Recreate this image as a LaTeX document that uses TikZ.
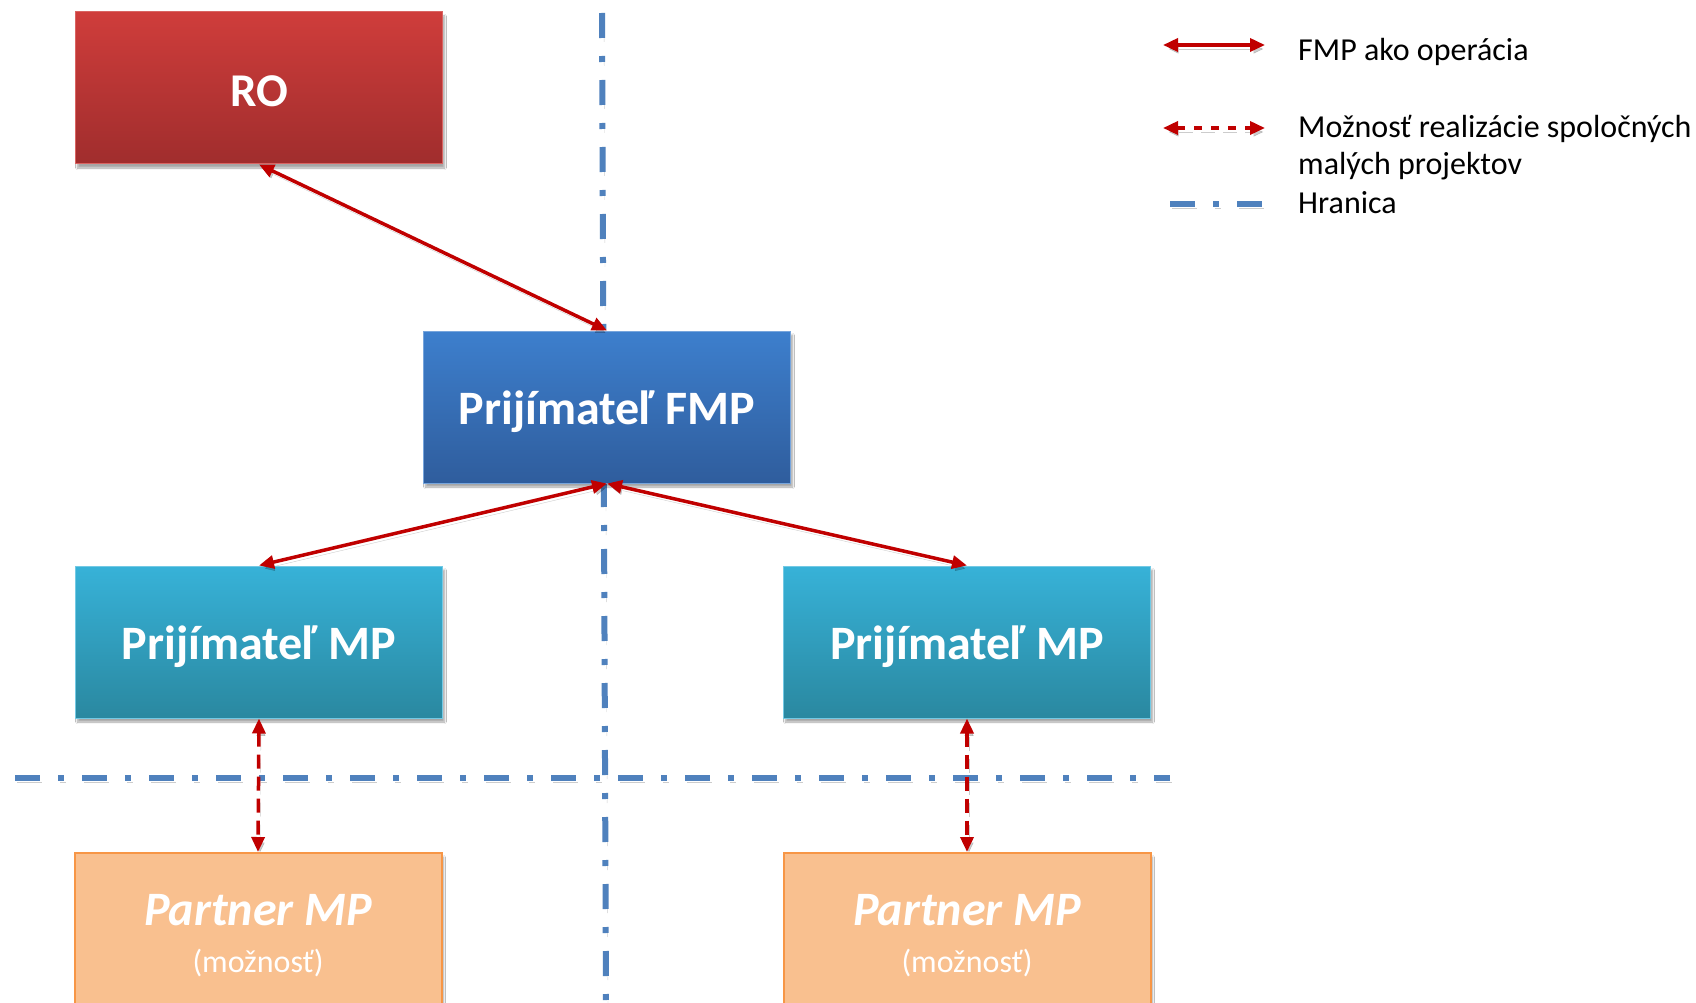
\documentclass[tikz,border=0pt]{standalone}
\usepackage{fontspec}
\setmainfont{Carlito}
\usetikzlibrary{arrows.meta,shadows.blur}
\definecolor{arr}{HTML}{C00000}
\definecolor{bline}{HTML}{4F81BD}
\definecolor{roTop}{HTML}{CF3D3B}
\definecolor{roBot}{HTML}{A02D2D}
\definecolor{fmpTop}{HTML}{3D7FCD}
\definecolor{fmpBot}{HTML}{2F5D9D}
\definecolor{mpTop}{HTML}{37B2D8}
\definecolor{mpBot}{HTML}{2A88A0}
\definecolor{ptFill}{HTML}{F9C08F}
\definecolor{ptLine}{HTML}{F79646}
\tikzset{
  box/.style={rectangle, inner sep=0pt, minimum width=367pt, minimum height=152pt,
    line width=1pt,
    blur shadow={shadow xshift=2pt, shadow yshift=-4pt, shadow blur steps=6, shadow opacity=35}},
  robox/.style={box, draw=roTop!80!white, top color=roTop, bottom color=roBot},
  fmpbox/.style={box, draw=fmpTop!70!white, top color=fmpTop, bottom color=fmpBot},
  mpbox/.style={box, draw=mpTop!70!white, top color=mpTop, bottom color=mpBot},
  ptbox/.style={box, draw=ptLine, fill=ptFill, line width=2pt},
  boxtext/.style={inner sep=0pt, text=white, align=center, font=\fontsize{48}{52}\selectfont\bfseries},
  pttext/.style={inner sep=0pt, text=white, align=center, font=\fontsize{32}{47}\selectfont},
  lshadow/.style={preaction={draw=black, opacity=0.2, transform canvas={shift={(2pt,-4pt)}}, #1}},
  lshadow/.default={},
  border/.style={draw=bline, line width=6pt, dash pattern=on 25pt off 18pt on 6pt off 18pt,
    lshadow={dash pattern=on 25pt off 18pt on 6pt off 18pt}},
  solidarr/.style={draw=arr, line width=3.5pt, {Triangle[length=15pt,width=13pt]}-{Triangle[length=15pt,width=13pt]}, lshadow},
  dasharr/.style={draw=arr, line width=3.5pt, {Triangle[length=15pt,width=13pt]}-{Triangle[length=15pt,width=13pt]},
    dash pattern=on 14pt off 8pt, lshadow={dash pattern=on 14pt off 8pt}},
  legtext/.style={anchor=west, align=left, inner sep=0pt, font=\fontsize{32}{37}\selectfont}
}
\begin{document}
\begin{tikzpicture}[x=1pt,y=-1pt]
\useasboundingbox (0,0) rectangle (1696,1003);
\fill[white] (0,0) rectangle (1696,1003);

% border lines
\coordinate (vt) at (602,13);
\coordinate (vb) at (606,1010);
\coordinate (hl) at (15,778);
\coordinate (hr) at (1170,778);
\draw[border] (vt) -- (vb);
\draw[border] (hl) -- (hr);

% boxes
\node[robox] (ro) at (259,88) {};
\node[boxtext, font=\fontsize{47}{52}\selectfont\bfseries] (rot) at (259,91) {RO};
\node[fmpbox] (fmp) at (607,407) {};
\node[boxtext] (fmpt) at (607,412) {Prijímateľ FMP};
\node[mpbox] (lmp) at (259,642) {};
\node[boxtext] (lmpt) at (259,647) {Prijímateľ MP};
\node[mpbox] (rmp) at (967,642) {};
\node[boxtext] (rmpt) at (967,647) {Prijímateľ MP};
\node[ptbox] (lp) at (258,929) {};
\node[pttext] (lpt) at (258,936) {{\fontsize{48}{47}\selectfont\bfseries\itshape Partner MP}\\(možnosť)};
\node[ptbox] (rp) at (967,929) {};
\node[pttext] (rpt) at (967,936) {{\fontsize{48}{47}\selectfont\bfseries\itshape Partner MP}\\(možnosť)};

% connectors
\draw[solidarr] (ro.south) -- (fmp.north);
\draw[solidarr] (fmp.south) -- (lmp.north);
\draw[solidarr] (fmp.south) -- (rmp.north);
\draw[dasharr] (lmp.south) -- (lp.north);
\draw[dasharr] (rmp.south) -- (rp.north);

% legend
\coordinate (la1) at (1163,45);
\coordinate (lb1) at (1265,45);
\coordinate (la2) at (1163,128);
\coordinate (lb2) at (1265,128);
\coordinate (la3) at (1170,204);
\coordinate (lb3) at (1265,204);
\draw[solidarr] (la1) -- (lb1);
\draw[dasharr, dash pattern=on 8pt off 9pt] (la2) -- (lb2);
\draw[border] (la3) -- (lb3);
\node[legtext] (t1) at (1298,52) {FMP ako operácia};
\node[legtext] (t2) at (1298,148) {Možnosť realizácie spoločných\\malých projektov};
\node[legtext] (t3) at (1298,203) {Hranica};
\end{tikzpicture}
\end{document}
